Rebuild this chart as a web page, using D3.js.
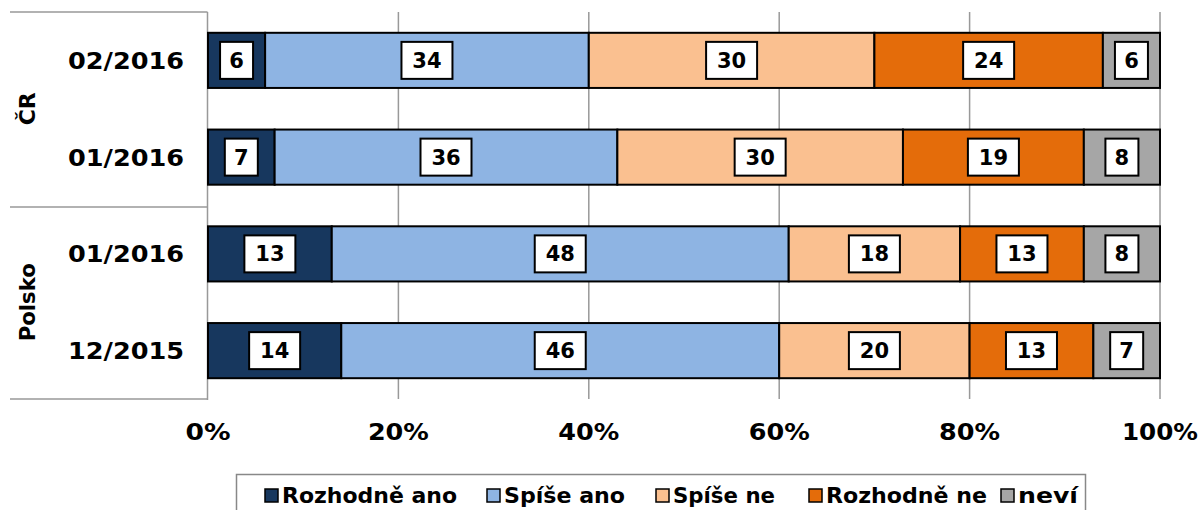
<!DOCTYPE html>
<html><head><meta charset="utf-8">
<script src="https://cdn.jsdelivr.net/npm/d3@7"></script>
<style>body{margin:0;background:#fff}svg{display:block}text{font-family:"DejaVu Sans",Verdana,sans-serif;font-weight:bold;fill:#000}</style>
</head><body><svg id="c" width="1201" height="510"></svg>
<script>
const categories = ["02/2016","01/2016","01/2016 ","12/2015"];
const groups = [{name:"ČR", rows:[0,1]},{name:"Polsko", rows:[2,3]}];
const seriesNames = ["Rozhodně ano","Spíše ano","Spíše ne","Rozhodně ne","neví"];
const colors = ["#17375E","#8EB4E3","#FAC090","#E46C0A","#A6A6A6"];
const rozhodneAno = [6,7,13,14];
const spiseAno = [34,36,48,46];
const spiseNe = [30,30,18,20];
const rozhodneNe = [24,19,13,13];
const nevi = [6,8,8,7];
const tickLabels = ["0%","20%","40%","60%","80%","100%"];
const series = [rozhodneAno,spiseAno,spiseNe,rozhodneNe,nevi];

const svg = d3.select("#c");
const x = d3.scaleLinear().domain([0,100]).range([208,1160]);
const y = d3.scaleBand().domain(categories).range([12,399]).paddingInner(0.43).paddingOuter(0.215);

// gridlines
svg.append("g").selectAll("line").data([20,40,60,80,100]).join("line")
  .attr("x1",d=>x(d)).attr("x2",d=>x(d)).attr("y1",12).attr("y2",399)
  .attr("stroke","#999").attr("stroke-width",1.5);

// left axis frame
const ax = svg.append("g").attr("stroke","#999").attr("stroke-width",1.5);
ax.append("line").attr("x1",207.5).attr("x2",207.5).attr("y1",12).attr("y2",400);
[12,207,399].forEach(yy=>ax.append("line").attr("x1",10).attr("x2",207.5).attr("y1",yy).attr("y2",yy));

// stacked bars
const stack = categories.map((c,i)=>{let acc=0;return series.map((s,k)=>{const r={cat:c,k,v:s[i],x0:acc,x1:acc+s[i]};acc+=s[i];return r;});}).flat();
svg.append("g").selectAll("rect").data(stack).join("rect")
  .attr("x",d=>x(d.x0)).attr("width",d=>x(d.x1)-x(d.x0))
  .attr("y",d=>y(d.cat)).attr("height",y.bandwidth())
  .attr("fill",d=>colors[d.k]).attr("stroke","#000").attr("stroke-width",2);

// labels
const lg = svg.append("g").selectAll("g").data(stack).join("g")
  .attr("transform",d=>`translate(${x((d.x0+d.x1)/2)},${y(d.cat)+y.bandwidth()/2})`);
lg.each(function(d){
  const g=d3.select(this);
  const w = String(d.v).length>1?51:33;
  g.append("rect").attr("x",-w/2).attr("y",-18.5).attr("width",w).attr("height",37)
    .attr("fill","#fff").attr("stroke","#000").attr("stroke-width",2);
  g.append("text").attr("text-anchor","middle").attr("y",7.5).attr("font-size",21).text(d.v);
});

// category labels
svg.append("g").selectAll("text").data(categories).join("text")
  .attr("x",184).attr("y",d=>y(d)+y.bandwidth()/2+8.5)
  .attr("text-anchor","end").attr("font-size",23)
  .attr("textLength",116).attr("lengthAdjust","spacingAndGlyphs").text(d=>d.trim());

// group labels
groups.forEach(g=>{
  const cy=(y(categories[g.rows[0]])+y(categories[g.rows[1]])+y.bandwidth())/2;
  const t=svg.append("text").attr("transform",`translate(35,${cy}) rotate(-90)`)
    .attr("text-anchor","middle").attr("font-size",22).text(g.name);
  if(g.name==="Polsko") t.attr("textLength",78).attr("lengthAdjust","spacingAndGlyphs");
});

// x tick labels
const tickLen=[45,61,61,61,61,76];
svg.append("g").selectAll("text").data(tickLabels).join("text")
  .attr("x",(d,i)=>x(i*20)-tickLen[i]/2).attr("y",440)
  .attr("font-size",23).attr("textLength",(d,i)=>tickLen[i]).attr("lengthAdjust","spacingAndGlyphs").text(d=>d);

// legend
svg.append("rect").attr("x",236.5).attr("y",474.5).attr("width",849).attr("height",60)
  .attr("fill","#fff").attr("stroke","#888").attr("stroke-width",1.5);
const legX=[265,487,656,809,1001];
const legLen=[175,121,102,161,60];
const leg=svg.append("g").selectAll("g").data(seriesNames).join("g")
  .attr("transform",(d,i)=>`translate(${legX[i]},495.5)`);
leg.append("rect").attr("x",0).attr("y",-6.5).attr("width",13).attr("height",13)
  .attr("fill",(d,i)=>colors[i]).attr("stroke","#000").attr("stroke-width",1.5);
leg.append("text").attr("x",17).attr("y",7.5).attr("font-size",21)
  .attr("textLength",(d,i)=>legLen[i]).attr("lengthAdjust","spacingAndGlyphs").text(d=>d);
</script></body></html>
